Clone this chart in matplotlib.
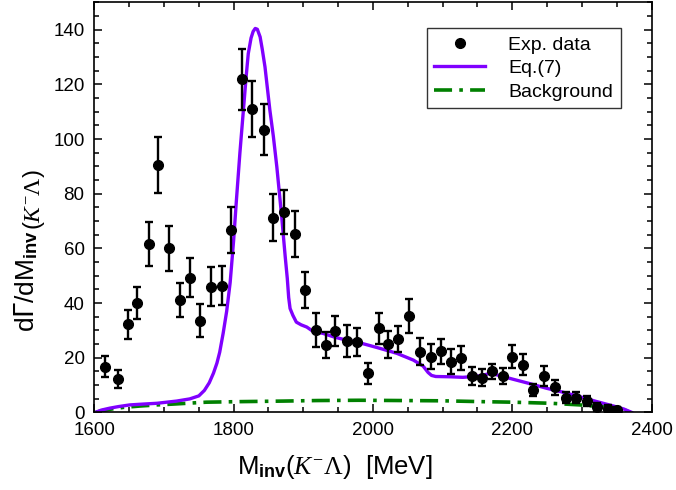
import matplotlib
matplotlib.use('Agg')
import matplotlib.pyplot as plt
import numpy as np
from matplotlib.lines import Line2D
from matplotlib.ticker import MultipleLocator
from matplotlib.transforms import offset_copy

plt.rcParams['font.family'] = ['Liberation Sans', 'DejaVu Sans']
plt.rcParams['mathtext.fontset'] = 'custom'
plt.rcParams['mathtext.rm'] = 'Liberation Serif'
plt.rcParams['mathtext.it'] = 'Liberation Serif:italic'
plt.rcParams['mathtext.bf'] = 'Liberation Sans:bold'

# experimental points: invariant mass [MeV], value, error
m_exp = [1616, 1634, 1648, 1662, 1678, 1692, 1707, 1723, 1737, 1752,
         1768, 1783, 1796, 1812, 1827, 1843, 1857, 1872, 1888, 1902,
         1918, 1932, 1946, 1962, 1977, 1993, 2008, 2022, 2036, 2052,
         2067, 2083, 2097, 2112, 2126, 2142, 2157, 2171, 2186, 2200,
         2216, 2230, 2245, 2261, 2277, 2292, 2307, 2321, 2337, 2350]
v_exp = [16.7, 12.2, 32.2, 39.9, 61.6, 90.6, 60.0, 41.0, 49.2, 33.5,
         45.9, 46.3, 66.7, 121.9, 111.0, 103.4, 71.3, 73.3, 65.3, 44.7,
         30.1, 24.6, 29.7, 26.2, 25.8, 14.3, 30.7, 24.9, 26.7, 35.3,
         22.2, 20.3, 22.4, 18.5, 19.8, 13.3, 12.7, 15.0, 13.3, 20.4,
         17.4, 8.3, 13.3, 9.2, 5.3, 5.3, 4.0, 1.8, 1.3, 1.0]
e_exp = [3.8, 3.2, 5.4, 5.8, 8.0, 10.2, 8.2, 6.2, 7.1, 6.1,
         7.1, 7.2, 8.5, 11.2, 10.2, 9.4, 8.5, 8.2, 8.4, 6.7,
         6.3, 4.9, 5.5, 5.8, 5.2, 3.8, 5.6, 4.9, 4.8, 6.2,
         4.9, 4.6, 4.6, 4.5, 4.5, 3.2, 3.2, 2.8, 3.0, 4.2,
         3.9, 2.2, 3.6, 2.8, 2.0, 2.0, 1.8, 1.5, 1.2, 1.0]

# Eq.(7) curve
m_fit = [1602, 1610, 1622, 1635, 1651, 1670, 1690, 1718, 1737, 1750,
         1758, 1765, 1771, 1776, 1780, 1785, 1790, 1795, 1800, 1804,
         1809, 1814, 1818, 1821, 1825, 1828, 1831, 1834, 1838, 1841,
         1845, 1852, 1857, 1862, 1869, 1874, 1877, 1879, 1881, 1885,
         1890, 1897, 1905, 1914, 1928, 1945, 1962, 1977, 1993, 2010,
         2034, 2058, 2072, 2079, 2084, 2090, 2110, 2129, 2140, 2155,
         2169, 2185, 2201, 2225, 2249, 2275, 2297, 2320, 2345, 2360, 2371]
v_fit = [0.0, 0.8, 1.5, 2.1, 2.7, 3.0, 3.3, 4.1, 4.9, 6.0,
         8.0, 10.8, 14.3, 18.0, 22.0, 29.0, 37.0, 47.5, 63.0, 77.7,
         95.0, 110.6, 123.0, 131.3, 137.0, 139.4, 140.5, 140.2, 137.4, 133.0,
         126.4, 110.6, 101.0, 89.8, 71.5, 57.0, 49.0, 42.0, 38.0, 35.5,
         33.0, 32.0, 31.2, 29.6, 28.9, 27.5, 26.4, 25.7, 24.6, 23.4,
         21.6, 19.1, 16.9, 14.6, 13.5, 13.1, 13.0, 12.8, 13.0, 13.4,
         14.3, 13.2, 12.1, 10.5, 8.8, 7.2, 5.7, 4.0, 2.3, 1.2, 0.0]

# background curve
m_bg = [1602, 1612, 1625, 1642, 1666, 1690, 1713, 1740, 1761, 1809,
        1871, 1920, 1980, 2040, 2100, 2155, 2200, 2255, 2297, 2330,
        2350, 2362, 2368]
v_bg = [0.0, 0.6, 1.2, 1.8, 2.3, 2.7, 3.0, 3.4, 3.7, 3.9,
        4.1, 4.3, 4.4, 4.3, 4.2, 3.9, 3.7, 3.3, 2.7, 2.0,
        1.5, 0.8, 0.0]

purple = '#8000ff'
green = '#008000'
bg_style = (0, (5, 2, 1, 2))

fig = plt.figure(figsize=(6.76, 4.90), dpi=100)
ax = fig.add_axes([0.1395, 0.1586, 0.8245, 0.8363])

ax.plot(m_bg, v_bg, color=green, lw=2.6, linestyle=bg_style, zorder=2)
ax.plot(m_fit, v_fit, color=purple, lw=2.4, zorder=2.5)
ax.errorbar(m_exp, v_exp, yerr=e_exp, fmt='o', color='black', ms=7,
            elinewidth=1.7, capsize=3.2, capthick=1.7, zorder=3)

ax.set_xlim(1600, 2400)
ax.set_ylim(0, 150)
ax.xaxis.set_major_locator(MultipleLocator(200))
ax.xaxis.set_minor_locator(MultipleLocator(50))
ax.yaxis.set_major_locator(MultipleLocator(20))
ax.yaxis.set_minor_locator(MultipleLocator(5))
ax.tick_params(which='both', direction='in', top=True, right=True,
               width=1.1, labelsize=13.5)
ax.tick_params(axis='x', pad=7)
ax.tick_params(axis='y', pad=7)
ax.tick_params(which='major', length=6)
ax.tick_params(which='minor', length=3.5)
for s in ax.spines.values():
    s.set_linewidth(1.2)

# x axis label
fig.text(236.7 / 676, 1 - 474 / 490,
         r'M$_{\mathbf{inv}}$($K^{-}\Lambda$)  [MeV]',
         fontsize=18.5, ha='left', va='baseline')

# y axis label: main part, then the (K-Lambda) part lowered
t1 = fig.text(34 / 676, 1 - 332 / 490,
              r'd$\mathsf{\Gamma}$/dM$_{\mathbf{inv}}$',
              fontsize=19, rotation=90, rotation_mode='anchor',
              ha='left', va='baseline')
fig.canvas.draw()
bb = t1.get_window_extent()
tr = offset_copy(fig.transFigure, fig=fig, x=6, y=0, units='dots')
fig.text(34 / 676, bb.y1 / fig.bbox.height, r'($K^{-}\Lambda$)',
         fontsize=17, rotation=90, rotation_mode='anchor',
         ha='left', va='baseline', transform=tr)

handles = [
    Line2D([], [], marker='o', color='black', ls='none', ms=7),
    Line2D([], [], color=purple, lw=2.4),
    Line2D([], [], color=green, lw=2.6, linestyle=bg_style),
]
leg = ax.legend(handles, ['Exp. data', 'Eq.(7)', 'Background'],
                loc='upper right', bbox_to_anchor=(0.945, 0.937),
                fontsize=14, frameon=True, fancybox=False,
                handlelength=2.6, labelspacing=0.3, borderpad=0.4,
                handletextpad=1.2, borderaxespad=0)
leg.get_frame().set_edgecolor('black')
leg.get_frame().set_linewidth(1.0)

fig.savefig('out.png', dpi=100)
